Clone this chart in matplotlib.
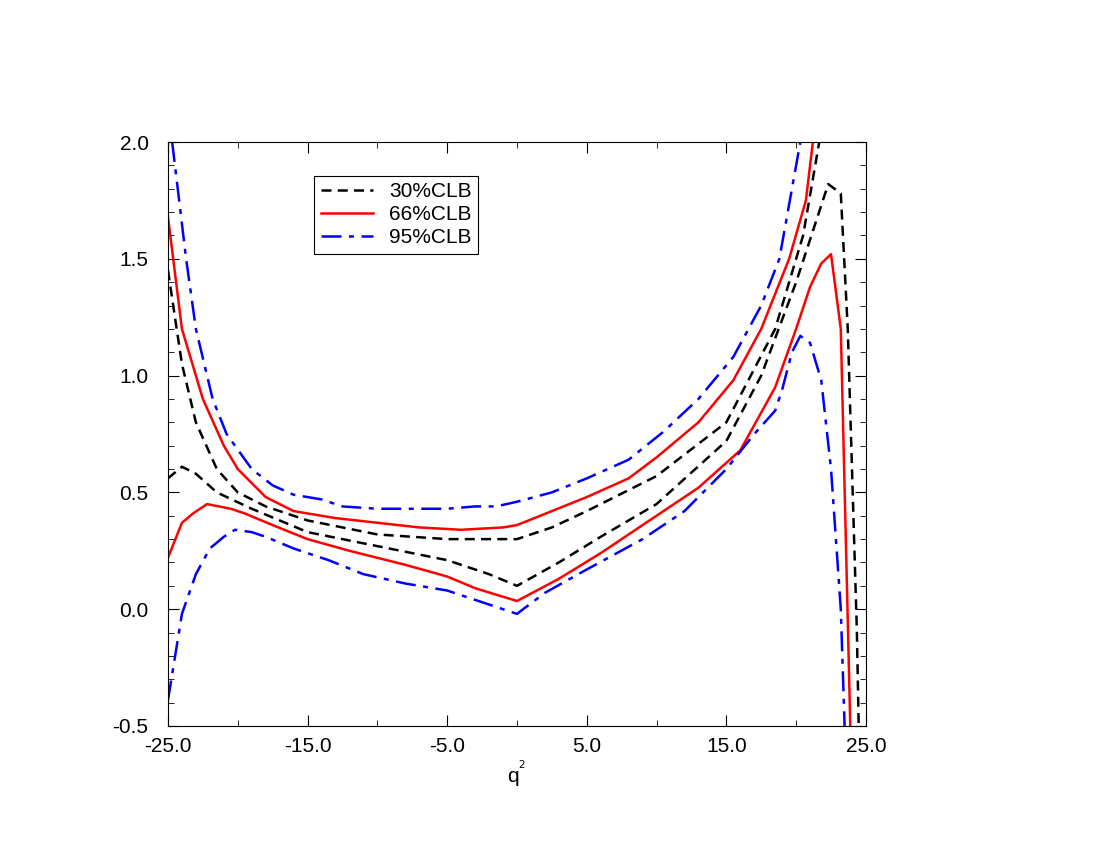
import numpy as np
import matplotlib.pyplot as plt
from matplotlib.ticker import MultipleLocator, FormatStrFormatter

plt.rcParams["font.family"] = "Liberation Sans"

# === Data ===
x30_up = [-25, -24, -23, -21.5, -20, -18, -15, -10, -5, 0, 2.5, 5, 10, 15, 18.5, 20.5, 21.8]
y30_up = [1.45, 1.05, 0.8, 0.6, 0.5, 0.44, 0.38, 0.32, 0.30, 0.30, 0.35, 0.42, 0.57, 0.8, 1.2, 1.6, 2.05]
x30_lo = [-25, -24, -23, -21.5, -19, -15, -10, -5, -2, 0, 3, 6, 10, 15, 17.5, 20, 22.3, 23.2, 23.7, 24.35, 24.5]
y30_lo = [0.56, 0.61, 0.58, 0.5, 0.43, 0.33, 0.27, 0.21, 0.15, 0.10, 0.2, 0.31, 0.45, 0.72, 1.0, 1.4, 1.82, 1.78, 1.2, -0.09, -0.55]

x66_up = [-25, -24, -22.5, -21, -20, -18, -16, -13, -10, -7, -4, -1, 0, 2.5, 5, 8, 10, 13, 15.5, 17.5, 19.5, 20.7, 21.3]
y66_up = [1.68, 1.2, 0.9, 0.7, 0.6, 0.48, 0.42, 0.39, 0.37, 0.35, 0.34, 0.35, 0.36, 0.42, 0.48, 0.56, 0.65, 0.8, 0.98, 1.2, 1.5, 1.75, 2.05]
x66_lo = [-25, -24, -23.2, -22.2, -20.5, -19.5, -17.5, -15, -12, -8, -5, -3, 0, 3, 6, 9, 13, 16, 18.5, 20, 21, 21.8, 22.5, 23.2, 23.9]
y66_lo = [0.22, 0.37, 0.41, 0.45, 0.43, 0.41, 0.36, 0.30, 0.25, 0.19, 0.14, 0.09, 0.035, 0.13, 0.24, 0.36, 0.52, 0.68, 0.95, 1.2, 1.38, 1.48, 1.52, 1.2, -0.55]

x95_up = [-24.7, -23.7, -23, -21.8, -20.8, -19, -17.5, -16, -14, -12.5, -10, -7, -5, -3, -1.5, 0, 2.5, 5, 8, 10.5, 13, 15.5, 17.5, 18.8, 20.3]
y95_up = [2.0, 1.5, 1.2, 0.9, 0.75, 0.6, 0.53, 0.49, 0.47, 0.44, 0.43, 0.43, 0.43, 0.44, 0.44, 0.46, 0.5, 0.56, 0.64, 0.76, 0.9, 1.08, 1.3, 1.5, 2.0]
x95_lo = [-25, -24, -23, -22, -21, -20.2, -19, -18, -16, -13.5, -11, -8, -5, -3, 0, 2, 5, 9, 12, 15, 17, 18.5, 19, 19.7, 20.3, 21, 21.8, 22.5, 23.2, 23.5]
y95_lo = [-0.39, -0.02, 0.15, 0.26, 0.31, 0.34, 0.33, 0.31, 0.26, 0.21, 0.15, 0.11, 0.08, 0.04, -0.02, 0.07, 0.17, 0.30, 0.42, 0.6, 0.75, 0.85, 0.94, 1.1, 1.17, 1.14, 0.98, 0.6, 0.0, -0.55]

fig = plt.figure(figsize=(11, 8.5), dpi=100)
ax = fig.add_axes([0.1527, 0.1459, 0.6345, 0.687])

ax.plot(x30_up, y30_up, color="black", ls=(0, (4, 2.5)), lw=1.8, label="30%CLB")
ax.plot(x30_lo, y30_lo, color="black", ls=(0, (4, 2.5)), lw=1.8)
ax.plot(x66_up, y66_up, color="red", lw=1.8, label="66%CLB")
ax.plot(x66_lo, y66_lo, color="red", lw=1.8)
ax.plot(x95_up, y95_up, color="blue", ls=(0, (8, 3, 2, 3)), lw=1.8, label="95%CLB")
ax.plot(x95_lo, y95_lo, color="blue", ls=(0, (8, 3, 2, 3)), lw=1.8)

ax.set_xlim(-25, 25)
ax.set_ylim(-0.5, 2.0)
ax.set_xticks([-25, -15, -5, 5, 15, 25])
ax.xaxis.set_major_formatter(FormatStrFormatter("%.1f"))
ax.xaxis.set_minor_locator(MultipleLocator(5))
ax.yaxis.set_major_locator(MultipleLocator(0.5))
ax.yaxis.set_major_formatter(FormatStrFormatter("%.1f"))
ax.yaxis.set_minor_locator(MultipleLocator(0.1))
ax.tick_params(which="both", direction="in", top=True, right=True, labelsize=15)
ax.tick_params(which="major", length=8)
ax.tick_params(which="minor", length=4)
ax.tick_params(axis="y", pad=14)
ax.tick_params(axis="x", pad=8)
for s in ax.spines.values():
    s.set_linewidth(0.8)
ax.set_xlabel(r"q$^{^2}$", fontsize=15, labelpad=2)

leg = ax.legend(loc="upper left", bbox_to_anchor=(0.195, 0.96), fontsize=15, handlelength=2.5,
                fancybox=False, framealpha=1, edgecolor="black", borderpad=0.3, labelspacing=0.2)
leg.get_frame().set_linewidth(0.8)

fig.savefig("out.png", dpi=100)
